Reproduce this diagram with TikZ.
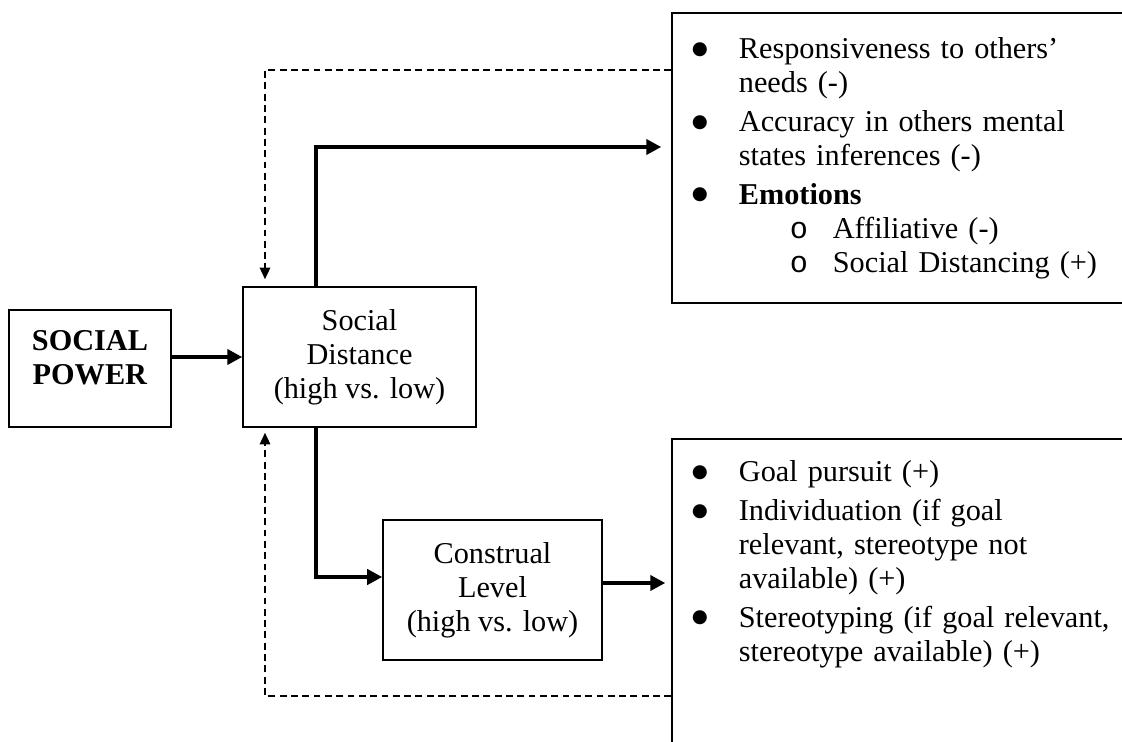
\documentclass[tikz,border=0pt]{standalone}
\usepackage{fontspec}
\setmainfont{Liberation Serif}
\setmonofont{Liberation Mono}
\newfontfamily\symfont{DejaVu Sans}
\usepackage{enumitem}
\usetikzlibrary{calc, arrows.meta}
\tikzset{every node/.append style={font=\fontsize{11.5}{12.9}\selectfont}}
\newcommand{\bigdot}{\raisebox{1.7pt}{\symfont\fontsize{7}{8}\selectfont ●}}

\begin{document}
\begin{tikzpicture}[x=0.38pt, y=-0.38pt,
    box/.style={draw, line width=0.6pt, align=center, inner sep=0pt},
    flow/.style={line width=1.5pt, -{Triangle[length=5.7pt, width=5.7pt]}},
    feedback/.style={line width=0.55pt, dash pattern=on 2.6pt off 1.7pt, -{Triangle[length=4.4pt, width=4pt]}},
    effects/.style={inner sep=0pt, anchor=north west, text width=180pt, align=left}]
    \useasboundingbox (0,0) rectangle (1122,741);
    \clip (0,0) rectangle (1122,741);
    % the chain of boxes
    \node[box, minimum width=61.6pt, minimum height=44.5pt, text depth=8.4pt] (power) at (90,368.5) {\textbf{SOCIAL}\\\textbf{POWER}};
    \node[box, minimum width=88.5pt, minimum height=53.2pt] (sd) at (359.5,357) {Social\\Distance\\(high vs. low)};
    \node[box, minimum width=83.2pt, minimum height=53.2pt] (cl) at (492.5,590) {Construal\\Level\\(high vs. low)};
    % outcome boxes, cut off at the page border
    \node[box, minimum width=174pt, minimum height=110.2pt] (social) at (901,158) {};
    \node[box, minimum width=174pt, minimum height=122pt] (cog) at (901,599.5) {};
    \node[effects] (socialtext) at ($(social.north west)+(0,12)$) {\raggedright
        \begin{itemize}[label=\bigdot, left=7.6pt .. 25.5pt, align=left, nosep, itemsep=1.9pt]
            \item Responsiveness to others'\newline needs (-)
            \item Accuracy in others mental\newline states inferences (-)
            \item \textbf{Emotions}
            \begin{itemize}[label=\texttt{o}, left=19.4pt .. 35.7pt, align=left, nosep]
                \item Affiliative (-)
                \item Social Distancing (+)
            \end{itemize}
        \end{itemize}};
    \node[effects] (cogtext) at ($(cog.north west)+(0,9)$) {\raggedright
        \begin{itemize}[label=\bigdot, left=7.6pt .. 25.5pt, align=left, nosep, itemsep=1.9pt]
            \item Goal pursuit (+)
            \item Individuation (if goal\newline relevant, stereotype not\newline available) (+)
            \item Stereotyping (if goal relevant,\newline stereotype available) (+)
        \end{itemize}};
    % solid paths
    \draw[flow] (power.east |- sd.west) -- (sd.west);
    \draw[flow] ($(sd.north)+(-43.5,0)$) |- ($(social.west)+(-10,-11)$);
    \draw[flow] ($(sd.south)+(-43.5,0)$) |- ($(cl.west)+(0,-13)$);
    \draw[flow] ($(cl.east)+(0,-7)$) -- ($(cog.west)+(-6,-16.5)$);
    % feedback loops
    \draw[feedback] ($(social.west)+(0,-88)$) -| ($(sd.north)+(-94.5,-7)$);
    \draw[feedback] ($(cog.west)+(0,96.5)$) -| ($(sd.south)+(-94.5,5)$);
\end{tikzpicture}
\end{document}
